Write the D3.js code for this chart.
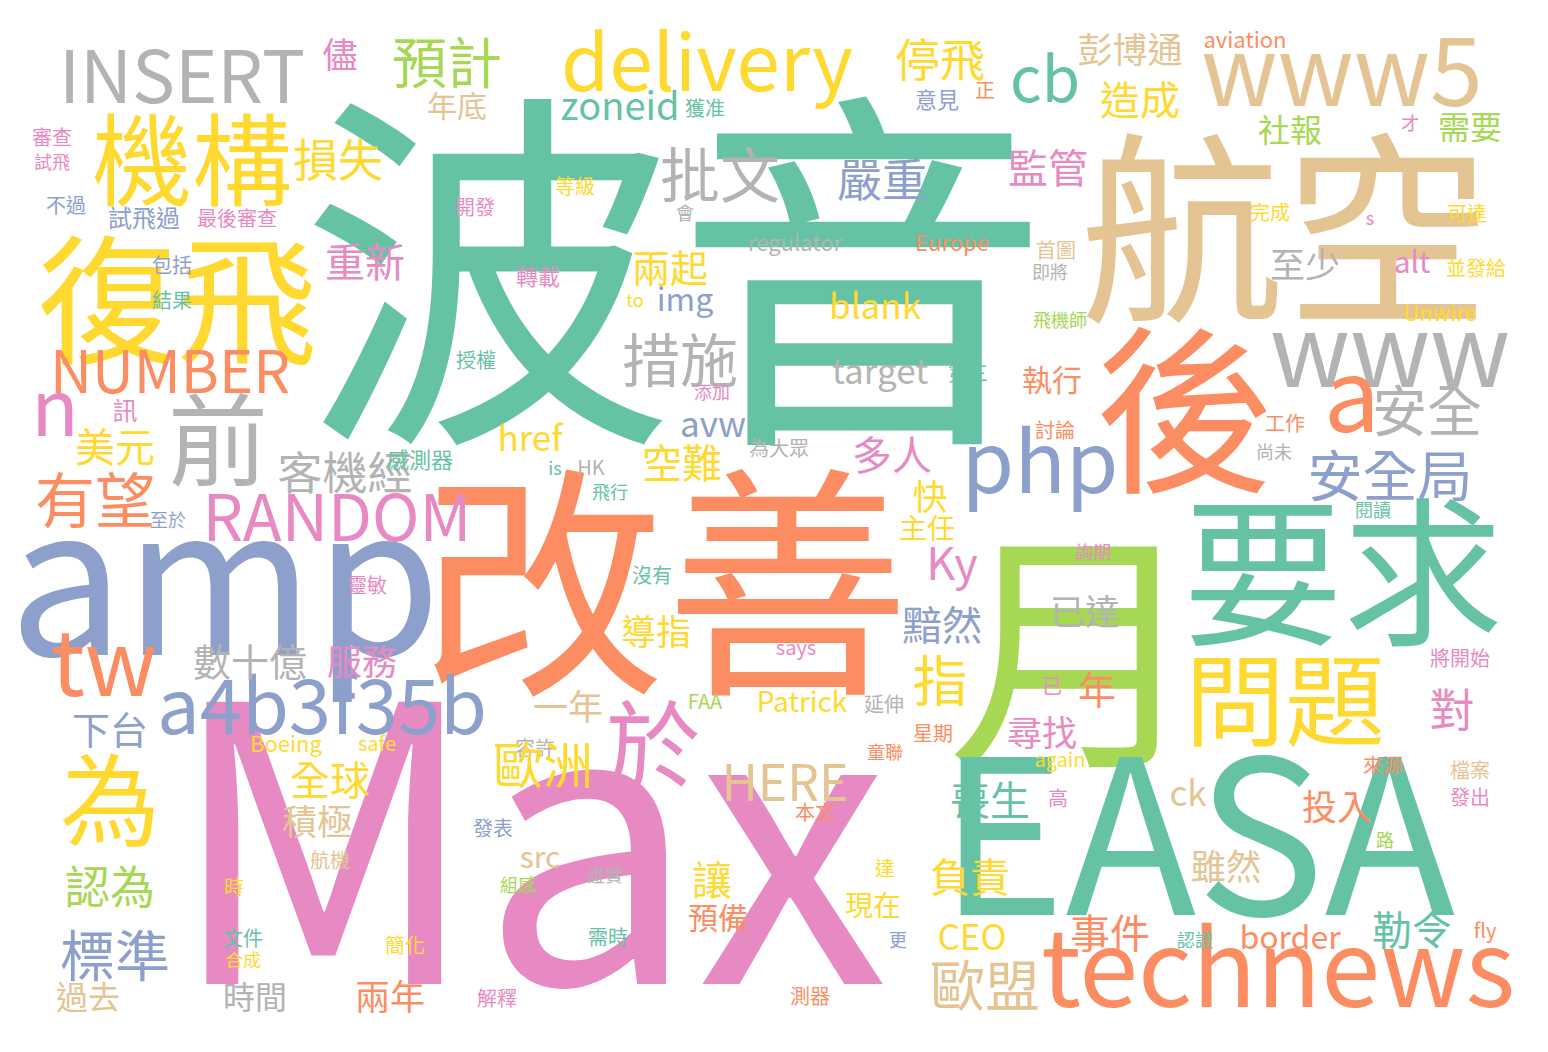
<!DOCTYPE html>
<html><head><meta charset="utf-8">
<script src="https://cdn.jsdelivr.net/npm/d3@7"></script>
<style>html,body{margin:0;background:#fff;overflow:hidden}</style>
</head><body>
<svg id="cloud"></svg>
<script>
// word cloud layout (layout units = source pixels)
var words = ["波音","改善","Max","航空","後","月","要求","EASA","amp","technews","機構","復飛","INSERT","delivery","www5","www","cb","a","安全","安全局","php","於","問題","為","前","tw","a4b3f35b","RANDOM","NUMBER","n","有望","美元","客機經","批文","措施","預計","損失","儘","停飛","年底","zoneid","獲准","彭博通","aviation","造成","社報","需要","オ","監管","嚴重","意見","正","審查","試飛","不過","試飛過","最後審查","開發","等級","會","重新","兩起","包括","結果","轉載","img","to","blank","regulator","Europe","完成","可達","s","首圖","即將","至少","alt","並發給","Unwire","飛機師","授權","添加","target","第三","執行","訊","工作","討論","尚未","avw","href","為大眾","多人","感測器","is","HK","空難","快","飛行","主任","Ky","至於","閱讀","詢期","靈敏","沒有","黯然","已達","數十億","服務","導指","says","將開始","指","一年","下台","FAA","Patrick","延伸","已","年","對","尋找","星期","容許","Boeing","safe","歐洲","HERE","童聯","again","來源","檔案","發出","全球","積極","喪生","ck","高","投入","本文","發表","路","認為","src","航機","證實","組感","讓","負責","雖然","達","時","現在","預備","標準","文件","合成","簡化","需時","CEO","更","事件","border","勒令","認證","fly","歐盟","過去","時間","兩年","解釋","測器"];
var sizes = [375,245,385,205,180,255,160,215,205,106,100,140,72,78,95,100,62,100,55,55,85,95,100,100,100,90,76,64,58,78,60,40,45,60,58,55,45,35,45,30,38,20,35,22,40,32,32,20,40,45,22,20,20,18,20,24,20,20,20,18,40,38,20,20,22,32,18,35,22,22,20,20,18,20,18,35,30,20,22,18,20,18,35,20,30,25,20,20,18,35,35,20,40,22,18,20,40,35,18,28,45,18,18,18,20,20,40,35,38,35,35,20,20,55,35,38,20,28,20,20,38,45,35,20,20,22,20,50,50,18,20,20,20,20,40,35,40,35,20,35,20,20,18,45,30,20,18,18,40,40,35,20,20,28,30,55,20,18,20,20,35,18,40,32,40,18,20,55,32,32,35,20,20];
var colors = ["t","o","p","n","o","g","t","t","b","o","y","y","r","y","n","r","t","o","r","b","b","p","y","y","r","o","b","p","o","p","o","y","r","r","r","g","y","p","y","n","t","t","n","o","y","g","g","p","p","b","b","o","p","p","b","b","p","p","y","r","p","y","b","t","p","b","y","y","r","o","y","y","p","n","r","r","p","y","y","g","t","p","r","t","o","p","o","o","r","b","y","r","p","t","t","r","y","y","t","y","p","b","t","p","p","t","b","r","r","p","y","p","p","y","n","b","g","y","r","p","o","p","p","o","r","y","y","y","n","o","y","o","n","p","y","n","t","n","p","o","o","b","g","g","n","n","r","g","y","y","n","y","y","y","o","b","t","y","y","t","y","b","o","o","t","t","o","n","n","r","o","p","o"];
var xs = [675,665,528,1285,1185,1075,1343,1197,225,1278,192,177,182,707,1342,1390,1045,1352,1427,1390,1040,653,1285,110,218,104,322,337,170,55,95,115,345,720,680,447,338,340,940,457,620,705,1130,1245,1140,1290,1470,1410,1048,882,937,985,52,52,66,144,237,475,575,685,365,670,172,172,538,685,635,875,795,952,1270,1467,1370,1056,1050,1305,1412,1476,1440,1060,476,712,880,968,1052,125,1285,1055,1274,713,530,779,892,420,555,591,682,930,610,927,952,168,1373,1093,367,652,942,1085,250,362,656,796,1460,940,568,110,705,802,884,1052,1097,1452,1042,933,535,286,377,543,785,885,1060,1383,1470,1470,330,317,990,1188,1058,1337,815,493,1385,110,540,330,605,518,712,970,1226,885,234,873,718,115,243,243,405,608,972,898,1110,1290,1412,1195,1485,985,88,255,390,497,810];
var ys = [272,583,880,228,410,650,572,838,600,978,160,300,77,70,80,360,85,405,410,475,470,745,700,800,440,672,713,518,372,415,500,447,473,175,360,62,160,55,60,106,110,108,50,42,100,130,127,123,168,180,100,90,137,162,205,218,218,207,186,213,262,268,265,300,277,302,302,310,245,245,212,213,220,250,272,265,265,268,315,320,360,392,375,373,380,410,423,430,452,428,442,448,455,460,470,468,463,497,492,528,568,520,510,552,585,575,625,612,662,662,632,650,658,680,707,730,702,704,704,686,690,710,733,733,748,746,746,765,783,752,762,765,770,797,780,822,800,797,798,807,812,828,840,887,860,860,875,885,880,877,867,868,887,905,918,955,938,960,945,937,937,940,933,940,930,940,933,985,997,997,997,998,996];

var W = 1548, H = 1052;
var palette = {t:"#66c2a5", o:"#fc8d62", b:"#8da0cb", p:"#e78ac3", g:"#a6d854", y:"#ffd92f", n:"#e5c494", r:"#b3b3b3"};

var x = d3.scaleLinear().domain([0, 1548]).range([0, W]);
var y = d3.scaleLinear().domain([0, 1052]).range([0, H]);

// offset from visual centre to baseline, as a share of the font size
function baseShift(t) {
  if (/[^\x00-\x7f]/.test(t)) return 0.38;   // CJK
  if (/^[A-Z0-9]+$/.test(t)) return 0.36;    // caps
  return 0.27;                               // lower case
}

var data = words.map(function(w, i) {
  return {text: w, size: sizes[i], color: palette[colors[i]], x: xs[i], y: ys[i]};
});

var svg = d3.select("#cloud").attr("width", W).attr("height", H);

svg.selectAll("text.word")
    .data(data)
  .enter().append("text")
    .attr("class", "word")
    .attr("x", function(d) { return x(d.x); })
    .attr("y", function(d) { return y(d.y + baseShift(d.text) * d.size); })
    .attr("text-anchor", "middle")
    .style("font-family", "'Noto Sans CJK TC','Noto Sans',sans-serif")
    .style("font-size", function(d) { return d.size + "px"; })
    .style("fill", function(d) { return d.color; })
    .text(function(d) { return d.text; });
</script>
</body></html>
